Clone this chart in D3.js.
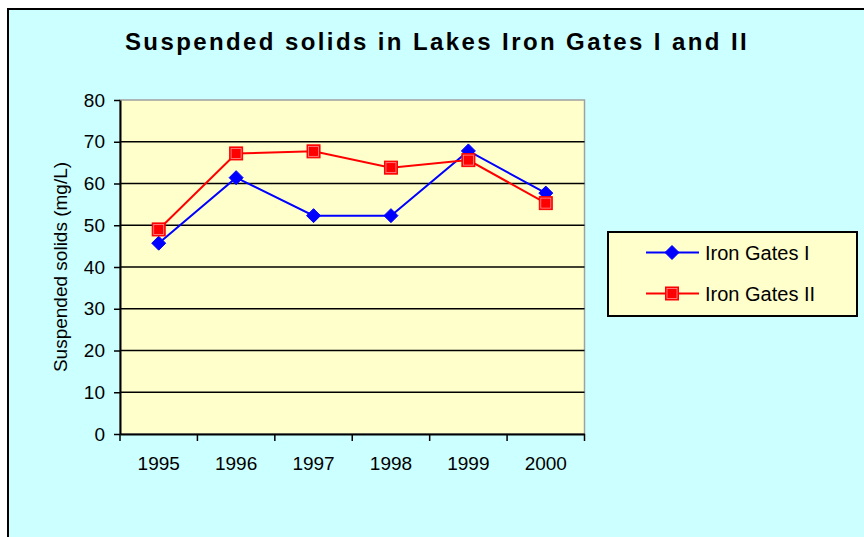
<!DOCTYPE html>
<html>
<head>
<meta charset="utf-8">
<script src="https://cdn.jsdelivr.net/npm/d3@7"></script>
<style>
  body { margin: 0; background: #ffffff; }
  svg { display: block; font-family: Arial, "Liberation Sans", sans-serif; }
</style>
</head>
<body>
<svg id="canvas" width="864" height="537"></svg>
<script>
const years = ["1995", "1996", "1997", "1998", "1999", "2000"]
const ironGatesI = [45.7, 61.4, 52.3, 52.3, 67.8, 57.7]
const ironGatesII = [49.0, 67.2, 67.7, 63.8, 65.6, 55.3]
const yTicks = [0, 10, 20, 30, 40, 50, 60, 70, 80]

const seriesInfo = [
  {name: "Iron Gates I", values: ironGatesI, color: "#0000ff", marker: "diamond"},
  {name: "Iron Gates II", values: ironGatesII, color: "#ff0000", marker: "square"}
]

let canvas = d3.select("#canvas")

let plotLeft = 120
let plotRight = 584.5
let plotTop = 100
let plotBottom = 434

// chart area background with the black frame
canvas.append("rect")
      .attr("x", 8)
      .attr("y", 9)
      .attr("width", 870)
      .attr("height", 540)
      .attr("fill", "#ccffff")
      .attr("stroke", "#000")
      .attr("stroke-width", 2)

let x = d3.scaleBand()
          .domain(years)
          .range([plotLeft, plotRight])

let y = d3.scaleLinear()
          .domain([0, 80])
          .range([plotBottom, plotTop])

// plot area
canvas.append("rect")
      .attr("x", plotLeft)
      .attr("y", plotTop)
      .attr("width", plotRight - plotLeft)
      .attr("height", plotBottom - plotTop)
      .attr("fill", "#ffffcc")
      .attr("stroke", "#a0a0a0")
      .attr("stroke-width", 1.5)

// gridlines
canvas.selectAll(".grid")
      .data(yTicks.filter((d) => d > 0 && d < 80))
      .enter()
      .append("line")
      .attr("class", "grid")
      .attr("x1", plotLeft)
      .attr("x2", plotRight)
      .attr("y1", (d) => y(d))
      .attr("y2", (d) => y(d))
      .attr("stroke", "#000")
      .attr("stroke-width", 1.5)

// y axis
let yAxis = canvas.append("g")
                  .attr("transform", "translate(" + plotLeft + ",0)")
                  .call(d3.axisLeft(y).tickValues(yTicks).tickSize(6).tickPadding(9).tickSizeOuter(0))
yAxis.select(".domain").attr("stroke", "#000").attr("stroke-width", 2)
yAxis.selectAll(".tick line").attr("stroke", "#000").attr("stroke-width", 1.5)
yAxis.selectAll(".tick text")
     .attr("font-size", "19px")
     .attr("fill", "#000")
     .style("font-family", "Arial, 'Liberation Sans', sans-serif")

// x axis: labels centered in bands, ticks on the band edges
let xAxis = canvas.append("g")
                  .attr("transform", "translate(0," + plotBottom + ")")
                  .call(d3.axisBottom(x).tickSize(0).tickPadding(23).tickSizeOuter(0))
xAxis.select(".domain").attr("stroke", "#000").attr("stroke-width", 2)
xAxis.selectAll(".tick text")
     .attr("font-size", "19px")
     .attr("fill", "#000")
     .style("font-family", "Arial, 'Liberation Sans', sans-serif")

let edges = years.map((d) => x(d)).concat([plotRight])
canvas.selectAll(".xtick")
      .data(edges)
      .enter()
      .append("line")
      .attr("class", "xtick")
      .attr("x1", (d) => d)
      .attr("x2", (d) => d)
      .attr("y1", plotBottom)
      .attr("y2", plotBottom + 7)
      .attr("stroke", "#000")
      .attr("stroke-width", 1.5)

// y axis title
canvas.append("text")
      .attr("transform", "translate(67," + ((plotTop + plotBottom) / 2) + ") rotate(-90)")
      .attr("text-anchor", "middle")
      .attr("font-size", "19px")
      .text("Suspended solids (mg/L)")

// chart title
canvas.append("text")
      .attr("x", 437)
      .attr("y", 50)
      .attr("text-anchor", "middle")
      .attr("font-size", "24px")
      .attr("font-weight", "bold")
      .attr("letter-spacing", "2.4px")
      .text("Suspended solids in Lakes Iron Gates I and II")

function drawMarker(g, kind, color) {
  if (kind === "diamond") {
    g.append("path")
     .attr("d", "M0,-7L7,0L0,7L-7,0Z")
     .attr("fill", color)
     .attr("stroke", color)
     .attr("stroke-width", 1)
  } else {
    g.append("rect")
     .attr("x", -6.5)
     .attr("y", -6.5)
     .attr("width", 13)
     .attr("height", 13)
     .attr("fill", color)
     .attr("stroke", color)
     .attr("stroke-width", 1)
    g.append("rect")
     .attr("x", -5)
     .attr("y", -5)
     .attr("width", 10)
     .attr("height", 10)
     .attr("fill", "none")
     .attr("stroke", "#ff9090")
     .attr("stroke-width", 0.8)
  }
}

let line = d3.line()
             .x((d, i) => x(years[i]) + x.bandwidth() / 2)
             .y((d) => y(d))

seriesInfo.forEach((s) => {
  canvas.append("path")
        .datum(s.values)
        .attr("d", line)
        .attr("fill", "none")
        .attr("stroke", s.color)
        .attr("stroke-width", 2)

  canvas.selectAll(".pt-" + s.marker)
        .data(s.values)
        .enter()
        .append("g")
        .attr("class", "pt-" + s.marker)
        .attr("transform", (d, i) => "translate(" + (x(years[i]) + x.bandwidth() / 2) + "," + y(d) + ")")
        .each(function() { drawMarker(d3.select(this), s.marker, s.color) })
})

// legend
let legend = canvas.append("g")
legend.append("rect")
      .attr("x", 608)
      .attr("y", 232)
      .attr("width", 249)
      .attr("height", 84)
      .attr("fill", "#ffffcc")
      .attr("stroke", "#000")
      .attr("stroke-width", 2)

const g = legend.selectAll(".item")
                .data(seriesInfo)
                .enter()
                .append("g")
                .attr("class", "item")
                .attr("transform", (d, i) => "translate(0," + (252.5 + i * 41) + ")")

g.append("line")
 .attr("x1", 646)
 .attr("x2", 699)
 .attr("stroke", (d) => d.color)
 .attr("stroke-width", 2)

g.append("g")
 .attr("transform", "translate(672,0)")
 .each(function(d) { drawMarker(d3.select(this), d.marker, d.color) })

g.append("text")
 .attr("x", 705)
 .attr("y", 7)
 .attr("font-size", "20px")
 .text((d) => d.name)
</script>
</body>
</html>
